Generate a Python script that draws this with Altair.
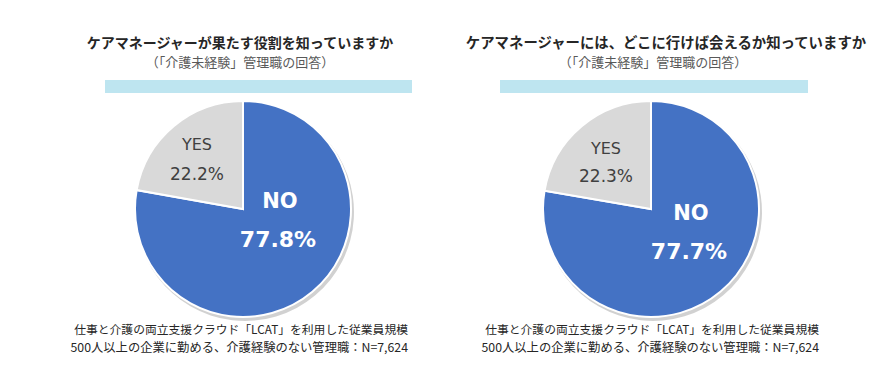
import altair as alt
import pandas as pd

# ---- data ----
panels = ["left", "right"]
titles = ["ケアマネージャーが果たす役割を知っていますか",
          "ケアマネージャーには、どこに行けば会えるか知っていますか"]
subtitle = "（「介護未経験」管理職の回答）"
answers = ["NO", "YES"]
values_left = [77.8, 22.2]
values_right = [77.7, 22.3]
footnote_1 = "仕事と介護の両立支援クラウド「LCAT」を利用した従業員規模"
footnote_2 = "500人以上の企業に勤める、介護経験のない管理職：N=7,624"

# ---- layout (chart pixel coordinates) ----
W, H = 873, 354
centers = {"left": (235, 201), "right": (643, 201)}
title_x = {"left": (232, 232), "right": (658, 645)}
title_size = {"left": 14, "right": 14.4}
bar_x = {"left": (97, 404), "right": (492, 800)}
foot_x = {"left": 400, "right": 811}
lab = {
    "left": {"yes": (189, 137), "yesp": (189, 167), "no": (272, 194), "nop": (270, 232)},
    "right": {"yes": (598, 141), "yesp": (598, 169), "no": (683, 206), "nop": (681, 244)},
}
R = 108
BLUE, GRAY, LIGHT = "#4472C4", "#D9D9D9", "#BEE5F0"
JP = "Noto Sans CJK JP"
LAT = "DejaVu Sans"

rows = []
for p, vals in zip(panels, [values_left, values_right]):
    for i, (a, v) in enumerate(zip(answers, vals)):
        rows.append({"panel": p, "answer": a, "value": v, "ord": i})
df = pd.DataFrame(rows)


def txt(text, x, y, size, color="#333333", weight="normal", font=JP, align="center"):
    return alt.Chart(pd.DataFrame({"t": [text]})).mark_text(
        fontSize=size, color=color, fontWeight=weight, font=font,
        align=align, baseline="middle"
    ).encode(text="t:N", x=alt.value(x), y=alt.value(y))


layers = []
for p, title, vals in zip(panels, titles, [values_left, values_right]):
    cx, cy = centers[p]
    base = alt.Chart(df).transform_filter(alt.datum.panel == p)
    # shadow
    layers.append(base.mark_arc(outerRadius=R + 1, fill="#000000", opacity=0.18).encode(
        theta=alt.Theta("value:Q"), x=alt.value(cx + 2), y=alt.value(cy + 3)))
    # pie
    layers.append(base.mark_arc(outerRadius=R, stroke="white", strokeWidth=2).encode(
        theta=alt.Theta("value:Q", stack=True),
        color=alt.Color("answer:N", scale=alt.Scale(domain=answers, range=[BLUE, GRAY]), legend=None),
        order=alt.Order("ord:Q"),
        x=alt.value(cx), y=alt.value(cy)))
    # light blue band
    x0, x1 = bar_x[p]
    layers.append(alt.Chart(pd.DataFrame({"a": [0]})).mark_rect(color=LIGHT).encode(
        x=alt.value(x0), x2=alt.value(x1), y=alt.value(72), y2=alt.value(85)))
    # titles
    tx, sx = title_x[p]
    layers.append(txt(title, tx, 36, title_size[p], color="#262626", weight="bold"))
    layers.append(txt(subtitle, sx, 55, 13, color="#595959"))
    # labels
    L = lab[p]
    layers.append(txt(answers[1], *L["yes"], 16, color="#404040", font=LAT))
    layers.append(txt(f"{vals[1]}%", *L["yesp"], 17, color="#404040", font=LAT))
    layers.append(txt(answers[0], *L["no"], 21, color="white", weight="bold", font=LAT))
    layers.append(txt(f"{vals[0]}%", *L["nop"], 22, color="white", weight="bold", font=LAT))
    # footnotes
    fx = foot_x[p]
    layers.append(txt(footnote_1, fx, 322, 11.8, color="#262626", align="right"))
    layers.append(txt(footnote_2, fx, 340, 12.3, color="#262626", align="right"))

chart = alt.layer(*layers).properties(
    width=W, height=H, autosize=alt.AutoSizeParams(type="none"), padding=0
).configure_view(stroke=None)

chart.save("out.html", embed_options={"renderer": "svg", "actions": False})
